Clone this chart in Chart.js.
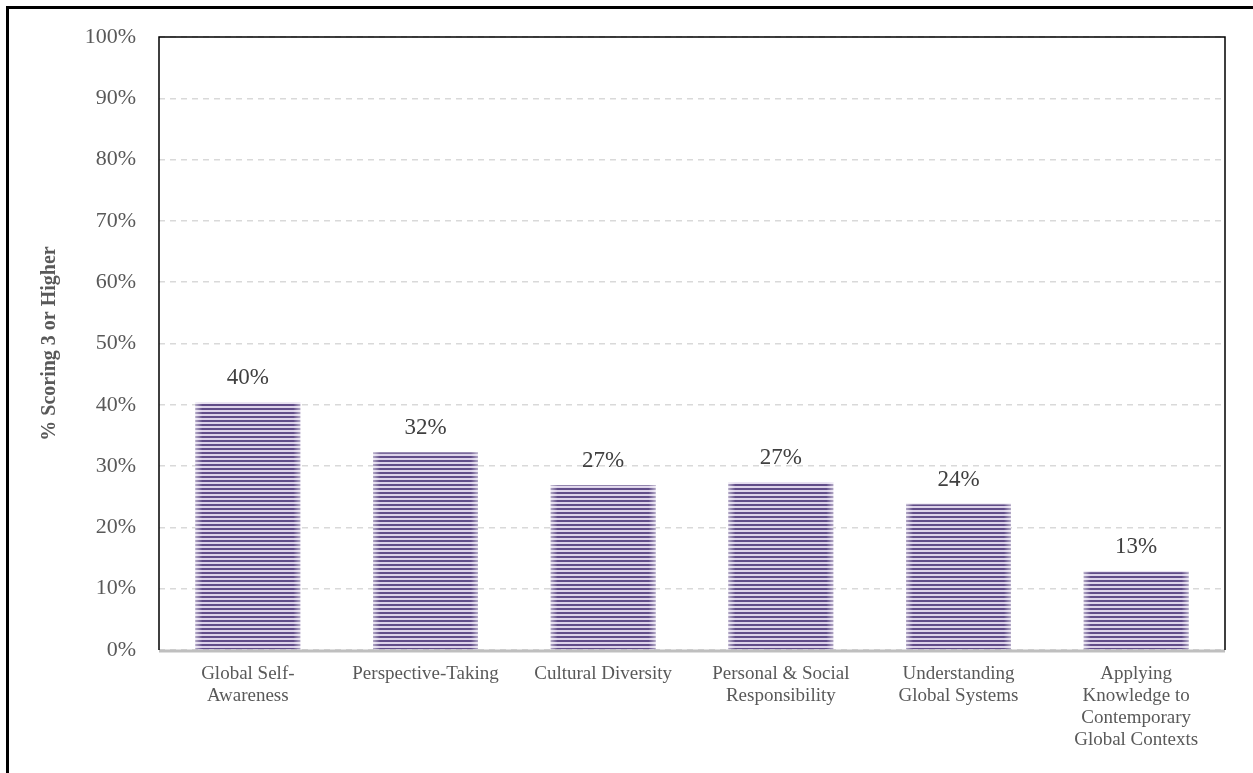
<!DOCTYPE html>
<html>
<head>
<meta charset="utf-8">
<script src="https://cdn.jsdelivr.net/npm/chart.js@4.4.1/dist/chart.umd.min.js"></script>
<style>
    html, body { margin: 0; padding: 0; background: #ffffff; overflow: hidden; }
    #wrap { position: relative; width: 1253px; height: 773px; }
    #frame {
        position: absolute; left: 6px; top: 6px; width: 2000px; height: 2000px;
        border-left: 3px solid #000; border-top: 3px solid #000;
    }
    canvas { position: absolute; left: 0; top: 0; }
</style>
</head>
<body>
<div id="wrap">
    <div id="frame"></div>
    <canvas id="chart" width="1253" height="773"></canvas>
</div>
<script>
const categories = [
    ['Global Self-', 'Awareness'],
    'Perspective-Taking',
    'Cultural Diversity',
    ['Personal & Social', 'Responsibility'],
    ['Understanding', 'Global Systems'],
    ['Applying', 'Knowledge to', 'Contemporary', 'Global Contexts']
];
const scoringPct = [40.4, 32.3, 26.9, 27.4, 23.9, 12.9];
const yTicks = [0, 10, 20, 30, 40, 50, 60, 70, 80, 90, 100];

const serif = '"Liberation Serif", "DejaVu Serif", serif';

// horizontal pinstripe fill for the bars
function stripePattern() {
    const c = document.createElement('canvas');
    c.width = 4; c.height = 4;
    const g = c.getContext('2d');
    g.fillStyle = '#614d89'; g.fillRect(0, 0, 4, 2);
    g.fillStyle = '#ddd3ea'; g.fillRect(0, 2, 4, 2);
    return g.createPattern(c, 'repeat');
}

// soft light edges on each bar, value labels above them, and the plot frame
const barDecor = {
    id: 'barDecor',
    afterDatasetsDraw(chart) {
        const { ctx, chartArea } = chart;
        const meta = chart.getDatasetMeta(0);
        ctx.save();
        meta.data.forEach((bar, i) => {
            const half = bar.width / 2;
            const l = bar.x - half, r = bar.x + half;
            const h = bar.base - bar.y;
            let gl = ctx.createLinearGradient(l, 0, l + 7, 0);
            gl.addColorStop(0, 'rgba(255,255,255,0.5)');
            gl.addColorStop(1, 'rgba(255,255,255,0)');
            ctx.fillStyle = gl;
            ctx.fillRect(l, bar.y, 7, h);
            let gr = ctx.createLinearGradient(r - 7, 0, r, 0);
            gr.addColorStop(0, 'rgba(255,255,255,0)');
            gr.addColorStop(1, 'rgba(255,255,255,0.5)');
            ctx.fillStyle = gr;
            ctx.fillRect(r - 7, bar.y, 7, h);
            ctx.fillStyle = 'rgba(255,255,255,0.35)';
            ctx.fillRect(l, bar.y, bar.width, 1.5);

            ctx.fillStyle = '#404040';
            ctx.font = '23px ' + serif;
            ctx.textAlign = 'center';
            ctx.textBaseline = 'middle';
            ctx.fillText(Math.round(scoringPct[i]) + '%', bar.x, bar.y - 24);
        });

        // grey category axis line
        ctx.strokeStyle = '#bfbfbf';
        ctx.lineWidth = 3;
        ctx.beginPath();
        ctx.moveTo(chartArea.left, chartArea.bottom + 1);
        ctx.lineTo(chartArea.right, chartArea.bottom + 1);
        ctx.stroke();

        // black box on left, top and right
        ctx.strokeStyle = '#000000';
        ctx.lineWidth = 1.5;
        ctx.beginPath();
        ctx.moveTo(chartArea.left, chartArea.bottom);
        ctx.lineTo(chartArea.left, chartArea.top);
        ctx.lineTo(chartArea.right, chartArea.top);
        ctx.lineTo(chartArea.right, chartArea.bottom);
        ctx.stroke();
        ctx.restore();
    }
};

new Chart(document.getElementById('chart'), {
    type: 'bar',
    data: {
        labels: categories,
        datasets: [{
            data: scoringPct,
            backgroundColor: stripePattern(),
            borderWidth: 0,
            barPercentage: 0.59,
            categoryPercentage: 1
        }]
    },
    options: {
        responsive: false,
        animation: false,
        layout: { padding: { left: 0, right: 28, top: 37, bottom: 0 } },
        plugins: {
            legend: { display: false },
            tooltip: { enabled: false }
        },
        scales: {
            y: {
                min: 0,
                max: 100,
                afterFit: (s) => { s.width = 159; },
                afterBuildTicks: (s) => { s.ticks = yTicks.map(v => ({ value: v })); },
                ticks: {
                    padding: 23,
                    color: '#595959',
                    font: { family: serif, size: 22 },
                    callback: (v) => v + '%'
                },
                grid: {
                    color: '#d9d9d9',
                    lineWidth: 1.5,
                    drawTicks: false
                },
                border: { display: false, dash: [6, 5] },
                title: {
                    display: true,
                    text: '% Scoring 3 or Higher',
                    color: '#595959',
                    padding: { top: 38, bottom: 0 },
                    font: { family: serif, size: 20, weight: 'bold' }
                }
            },
            x: {
                afterFit: (s) => { s.height = 123; },
                ticks: {
                    padding: 13,
                    maxRotation: 0,
                    autoSkip: false,
                    color: '#595959',
                    font: { family: serif, size: 19, lineHeight: 1.16 }
                },
                grid: { display: false, drawTicks: false },
                border: { display: false }
            }
        }
    },
    plugins: [barDecor]
});
</script>
</body>
</html>
